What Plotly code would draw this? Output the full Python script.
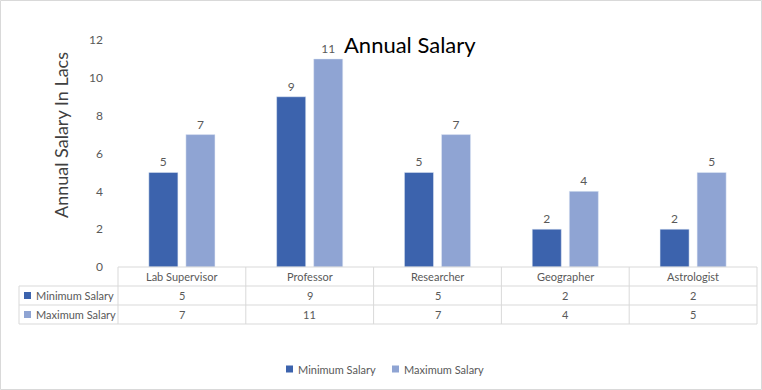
import plotly.graph_objects as go

categories = ["Lab Supervisor", "Professor", "Researcher", "Geographer", "Astrologist"]
min_salary = [5, 9, 5, 2, 2]
max_salary = [7, 11, 7, 4, 5]
series_names = ["Minimum Salary", "Maximum Salary"]
y_ticks = [0, 2, 4, 6, 8, 10, 12]

colors = ["#3c63ad", "#8fa4d3"]
W, H = 762, 390
PL, PR, PT, PB = 118, 757, 40, 267  # plot area in pixels

def px(x):
    return (x - PL) / (PR - PL)

def py(y):
    return (PB - y) / (PB - PT)

FONT = "Lato"
fig = go.Figure()
for name, vals, c in zip(series_names, [min_salary, max_salary], colors):
    fig.add_trace(go.Bar(
        x=categories, y=vals, name=name, marker_color=c,
        text=[str(v) for v in vals], textposition="outside",
        textfont=dict(color="#595959", size=12, family=FONT),
        cliponaxis=False,
    ))

shapes = []
annotations = []
grey = "#d9d9d9"

def ann(x, y, text, size=11, color="#595959", xanchor="center", angle=0):
    annotations.append(dict(xref="paper", yref="paper", x=px(x), y=py(y), text=text,
                            showarrow=False, xanchor=xanchor, yanchor="middle",
                            textangle=angle, font=dict(size=size, color=color, family=FONT)))

def square(x, y, c):
    shapes.append(dict(type="rect", xref="paper", yref="paper",
                       x0=px(x), x1=px(x + 7), y0=py(y - 3.5), y1=py(y + 3.5),
                       line=dict(width=0), fillcolor=c))

# outer border
shapes.append(dict(type="rect", xref="paper", yref="paper",
                   x0=px(0.5), x1=px(W - 0.5), y0=py(0.5), y1=py(H - 0.5),
                   line=dict(color=grey, width=1), fillcolor="rgba(0,0,0,0)"))
# table geometry
row_tops = [267, 286, 305, 324]
tbl_left = 19
n = len(categories)
col_w = (PR - PL) / n
def hline(y, x0, x1):
    shapes.append(dict(type="line", xref="paper", yref="paper",
                       x0=px(x0), x1=px(x1), y0=py(y), y1=py(y),
                       line=dict(color=grey, width=1)))
def vline(x, y0, y1):
    shapes.append(dict(type="line", xref="paper", yref="paper",
                       x0=px(x), x1=px(x), y0=py(y0), y1=py(y1),
                       line=dict(color=grey, width=1)))
hline(267, PL, PR)
for y in row_tops[1:]:
    hline(y, tbl_left, PR)
vline(tbl_left, 286, 324)
for i in range(n + 1):
    vline(PL + i * col_w, 267, 324)

# header row
for i, cat in enumerate(categories):
    ann(PL + (i + 0.5) * col_w, 276.5, cat)
# data rows
for r, (name, vals, c) in enumerate(zip(series_names, [min_salary, max_salary], colors)):
    yc = (row_tops[r + 1] + row_tops[r + 2]) / 2
    square(24, yc, c)
    ann(34, yc, name, xanchor="left")
    for i, v in enumerate(vals):
        ann(PL + (i + 0.5) * col_w, yc, str(v))

# legend (drawn manually)
legend_x = [286, 392]
for lx, name, c in zip(legend_x, series_names, colors):
    square(lx, 369, c)
    ann(lx + 10, 369, name, xanchor="left")

# y-axis title
ann(61, 135, "Annual Salary In Lacs", size=18, color="#404040", angle=-90)
# chart title
ann(410, 45, "Annual Salary", size=22, color="#000000")

fig.update_layout(
    width=W, height=H,
    margin=dict(l=PL, r=W - PR, t=PT, b=H - PB),
    paper_bgcolor="white", plot_bgcolor="white",
    barmode="group", bargap=0.42, bargroupgap=0.216,
    showlegend=False,
    xaxis=dict(showticklabels=False, showline=False, ticks="", showgrid=False, zeroline=False),
    yaxis=dict(range=[0, 12], tickvals=y_ticks, showgrid=False, zeroline=False, showline=False,
               tickfont=dict(size=12, color="#595959", family=FONT), ticks="",
               ticklabelstandoff=14),
    shapes=shapes, annotations=annotations,
)
fig.write_html("out.html")
